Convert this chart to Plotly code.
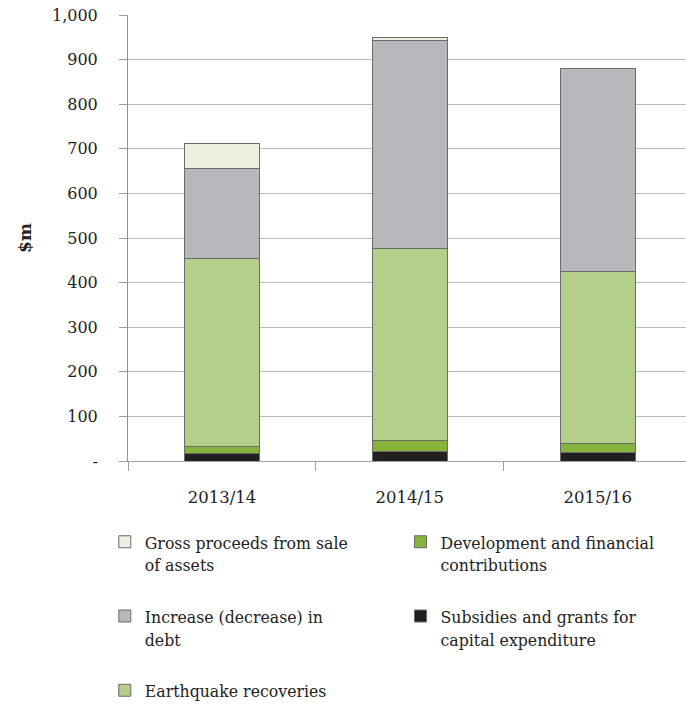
import plotly.graph_objects as go

categories = ["2013/14", "2014/15", "2015/16"]
subsidies = [17, 21, 18]
development = [16, 24, 22]
earthquake = [420, 432, 384]
debt = [203, 465, 456]
gross = [57, 8, 0]

ytick_vals = [0, 100, 200, 300, 400, 500, 600, 700, 800, 900, 1000]
ytick_text = ["-", "100", "200", "300", "400", "500", "600", "700", "800", "900", "1,000"]

FONT = "DejaVu Serif"
LFONT = "DejaVu Serif Condensed"
EDGE = "#6b6b6b"

# (name, values, colour, legend, rank)
series = [
    ("Subsidies and grants for<br>capital expenditure", subsidies, "#231F20", "legend2", 2),
    ("Development and financial<br>contributions<br> ", development, "#86B33A", "legend2", 1),
    ("Earthquake recoveries", earthquake, "#B3CF8A", "legend", 3),
    ("Increase (decrease) in<br>debt<br> ", debt, "#B7B8BC", "legend", 2),
    ("Gross proceeds from sale<br>of assets<br> ", gross, "#EBF1DE", "legend", 1),
]

fig = go.Figure()
for i, (name, vals, color, leg, rank) in enumerate(series):
    fig.add_trace(go.Bar(
        x=categories, y=vals, name=name,
        marker=dict(color=color, line=dict(color=EDGE, width=1)),
        legend=leg, legendrank=rank, legendgroup="g%d" % i,
    ))

legend_common = dict(
    orientation="v", yanchor="top", y=-0.141,
    valign="top", traceorder="grouped", tracegroupgap=3,
    font=dict(family=LFONT, size=17.5, color="#222"),
    itemwidth=30, xanchor="left", bgcolor="rgba(0,0,0,0)",
)

fig.update_layout(
    barmode="stack",
    bargap=0.6,
    width=686, height=706,
    margin=dict(l=128, r=0, t=15, b=245, autoexpand=False),
    plot_bgcolor="white", paper_bgcolor="white",
    font=dict(family=FONT, size=15, color="#222"),
    showlegend=True,
    legend=dict(x=-0.0416, **legend_common),
    legend2=dict(x=0.4884, **legend_common),
)
fig.update_xaxes(
    range=[-0.5, 2.47],
    tickson="boundaries", ticks="outside", ticklen=9, tickcolor="#a0a0a0",
    showline=True, linecolor="#a0a0a0", linewidth=1,
    showgrid=False, automargin=False, ticklabeloverflow="allow",
    ticklabelstandoff=21,
    tickfont=dict(family=FONT, size=16.5, color="#222"),
)
fig.update_yaxes(
    range=[0, 1000],
    tickvals=ytick_vals, ticktext=ytick_text,
    ticks="outside", ticklen=8, tickcolor="#a0a0a0",
    showline=True, linecolor="#909090", linewidth=1,
    showgrid=True, gridcolor="#bcbcbc", gridwidth=1,
    ticklabelstandoff=18, automargin=False, ticklabeloverflow="allow",
    tickfont=dict(family=FONT, size=16, color="#222"),
    title=dict(text="<b>$m</b>", font=dict(family=FONT, size=17, color="#222"), standoff=16),
    zeroline=False,
)

fig.write_html("out.html", config={"displayModeBar": False},
               post_script="document.body.style.margin='0px';")
